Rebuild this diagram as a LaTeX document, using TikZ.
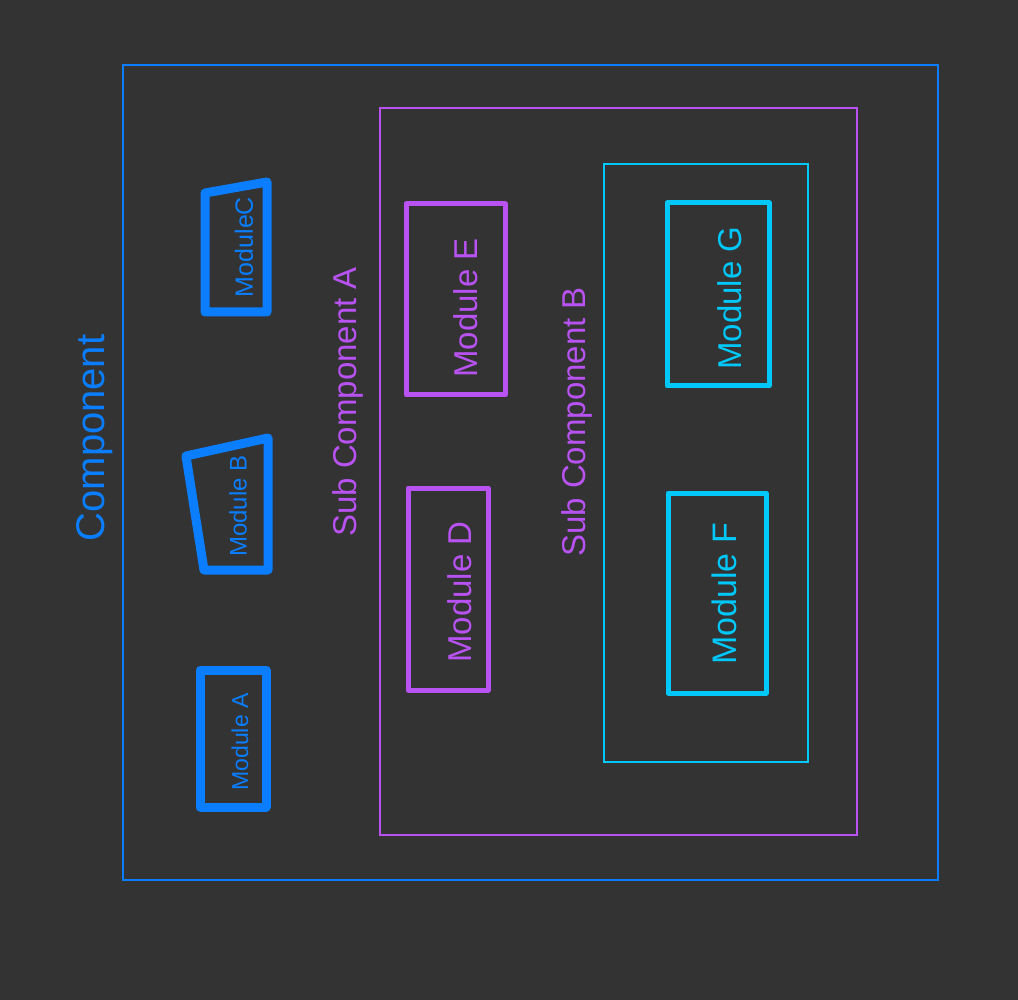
\documentclass[tikz,border=0pt]{standalone}
\usepackage{fontspec}
\setmainfont{Liberation Sans}
\definecolor{bg}{HTML}{333333}
\definecolor{cblue}{HTML}{0A7EFF}
\definecolor{cpurple}{HTML}{B952F2}
\definecolor{ccyan}{HTML}{00C8FA}
\begin{document}
\begin{tikzpicture}[x=1pt,y=-1pt,
  frame/.style={draw, line width=1.6pt},
  bmod/.style={draw=cblue, line width=9pt, line join=round},
  pmod/.style={draw=cpurple, line width=5pt, line join=round},
  cmod/.style={draw=ccyan, line width=5pt, line join=round},
  lbl/.style={rotate=90, inner sep=0pt}]
\fill[bg] (0,0) rectangle (1018,1000);
\useasboundingbox (0,0) rectangle (1018,1000);
% frames
\draw[frame, cblue] (123,65) rectangle (938,880);
\draw[frame, cpurple] (380,108) rectangle (857,835);
\draw[frame, ccyan] (604,164) rectangle (808,762);
% blue modules
\draw[bmod] (205,193) -- (267,182) -- (267,312) -- (205,312) -- cycle;
\draw[bmod] (186,456) -- (268,438) -- (268,570) -- (204,570) -- cycle;
\draw[bmod] (200,670) rectangle (266,807);
% purple modules
\draw[pmod] (406,204) rectangle (505,395);
\draw[pmod] (408,488) rectangle (488,690);
% cyan modules
\draw[cmod] (667,203) rectangle (769,386);
\draw[cmod] (668,493) rectangle (766,693);
% labels
\node[lbl, text=cblue, font=\fontsize{40}{40}\selectfont] (lcomp) at (95,438) {Component};
\node[lbl, text=cpurple, font=\fontsize{33}{33}\selectfont] (lsuba) at (348,402) {Sub Component A};
\node[lbl, text=cpurple, font=\fontsize{33}{33}\selectfont] (lsubb) at (577,422) {Sub Component B};
\node[lbl, text=cblue, font=\fontsize{25}{25}\selectfont] (lmc) at (244,247) {ModuleC};
\node[lbl, text=cblue, font=\fontsize{24}{24}\selectfont] (lmb) at (238,506) {Module B};
\node[lbl, text=cblue, font=\fontsize{23}{23}\selectfont] (lma) at (240,742) {Module A};
\node[lbl, text=cpurple, font=\fontsize{33}{33}\selectfont] (lme) at (466,308) {Module E};
\node[lbl, text=cpurple, font=\fontsize{33}{33}\selectfont] (lmd) at (460,592) {Module D};
\node[lbl, text=ccyan, font=\fontsize{33}{33}\selectfont] (lmg) at (730,298) {Module G};
\node[lbl, text=ccyan, font=\fontsize{34}{34}\selectfont] (lmf) at (724,594) {Module F};
\end{tikzpicture}
\end{document}
